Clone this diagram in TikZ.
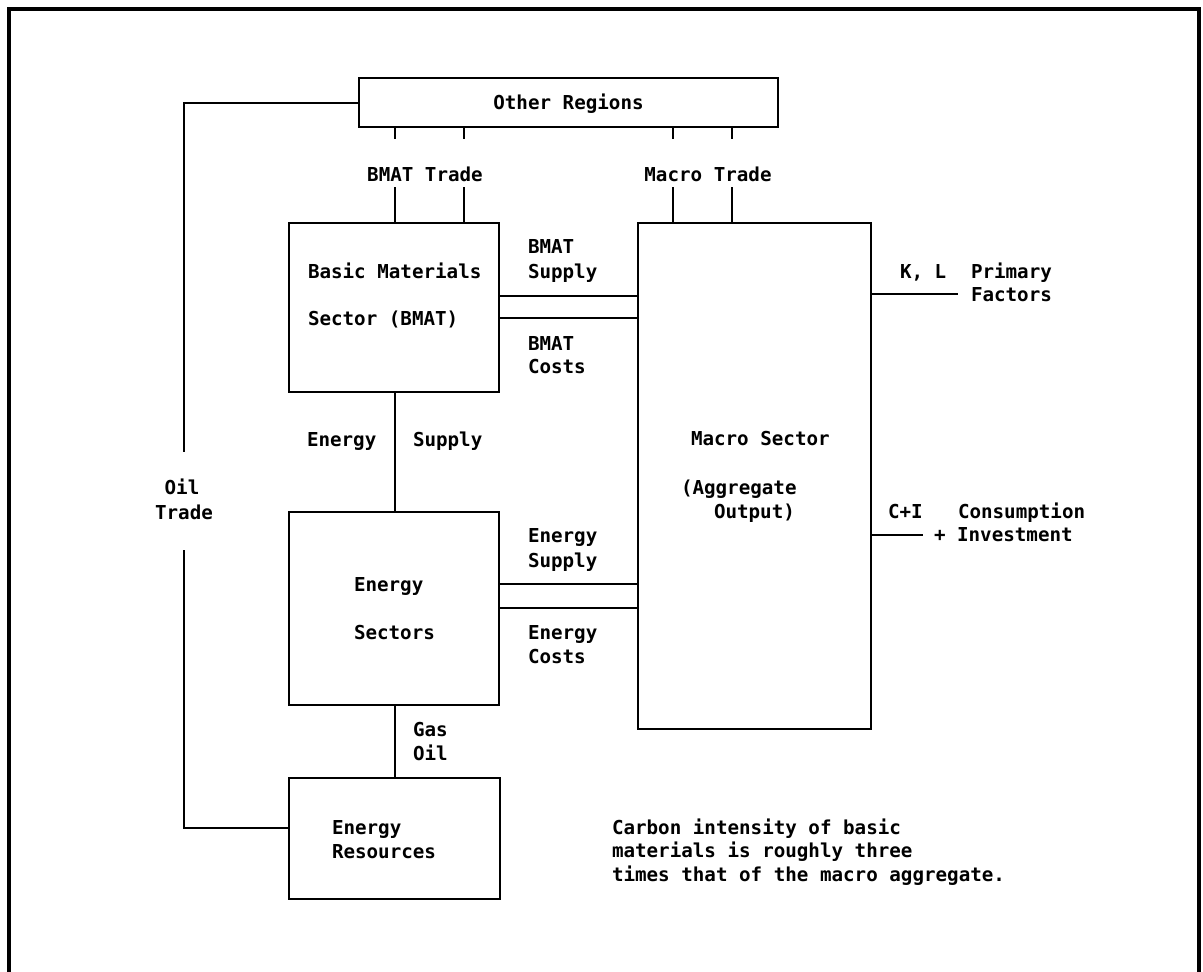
\documentclass[tikz,border=0pt]{standalone}
\usepackage{fontspec}
\setmonofont{DejaVu Sans Mono}
\begin{document}
\begin{tikzpicture}[x=0.75pt,y=-0.75pt,
  every node/.style={font=\ttfamily\bfseries\fontsize{14.4}{16}\selectfont, inner sep=0pt, outer sep=0pt},
  box/.style={draw, rectangle, line width=1.4pt},
  lab/.style={anchor=base west},
  clab/.style={anchor=base},
  wire/.style={line width=1.4pt},
  frameline/.style={line width=2.4pt}]
\useasboundingbox (0,0) rectangle (1203,971);

% outer frame (open at the bottom)
\coordinate (fA) at (9,975);
\coordinate (fB) at (9,9);
\coordinate (fC) at (1199,9);
\coordinate (fD) at (1199,975);
\draw[frameline] (fA) -- (fB) -- (fC) -- (fD);

% boxes
\node[box, minimum width=314.25pt, minimum height=36.75pt] (other) at (568.5,102.5) {};
\node[box, minimum width=157.5pt, minimum height=126.75pt] (bmat) at (394,307.5) {};
\node[box, minimum width=174.75pt, minimum height=379.5pt] (macro) at (754.5,476) {};
\node[box, minimum width=157.5pt, minimum height=144.75pt] (energy) at (394,608.5) {};
\node[box, minimum width=158.25pt, minimum height=90.75pt] (res) at (394.5,838.5) {};

% helper coordinates
\coordinate (s1) at (395,139); \coordinate (s1b) at (395,187);
\coordinate (s2) at (464,139); \coordinate (s2b) at (464,187);
\coordinate (s3) at (673,139); \coordinate (s3b) at (673,187);
\coordinate (s4) at (732,139); \coordinate (s4b) at (732,187);
\coordinate (y296) at (0,296); \coordinate (y318) at (0,318);
\coordinate (y584) at (0,584); \coordinate (y608) at (0,608);
\coordinate (x395) at (395,0);
\coordinate (ot1) at (184,103);
\coordinate (ot2) at (184,452);
\coordinate (ot3) at (184,550);
\coordinate (ot4) at (184,828);
\coordinate (kl) at (958,294);
\coordinate (ci) at (923,535);

% trade stubs
\draw[wire] (other.south -| s1) -- (s1);
\draw[wire] (other.south -| s2) -- (s2);
\draw[wire] (other.south -| s3) -- (s3);
\draw[wire] (other.south -| s4) -- (s4);
\draw[wire] (s1b) -- (bmat.north -| s1b);
\draw[wire] (s2b) -- (bmat.north -| s2b);
\draw[wire] (s3b) -- (macro.north -| s3b);
\draw[wire] (s4b) -- (macro.north -| s4b);

% BMAT supply / costs
\draw[wire] (bmat.east |- y296) -- (macro.west |- y296);
\draw[wire] (bmat.east |- y318) -- (macro.west |- y318);
% energy supply / costs
\draw[wire] (energy.east |- y584) -- (macro.west |- y584);
\draw[wire] (energy.east |- y608) -- (macro.west |- y608);

% vertical links
\draw[wire] (bmat.south -| x395) -- (energy.north -| x395);
\draw[wire] (energy.south -| x395) -- (res.north -| x395);

% oil trade
\draw[wire] (other.west |- ot1) -- (ot1) -- (ot2);
\draw[wire] (ot3) -- (ot4) -- (res.west |- ot4);

% primary factors / C+I
\draw[wire] (macro.east |- kl) -- (kl);
\draw[wire] (macro.east |- ci) -- (ci);

% labels
\node[clab] (tOther) at (568.5,109) {Other Regions};
\node[clab] (tBT) at (425,181) {BMAT Trade};
\node[clab] (tMT) at (708,181) {Macro Trade};
\node[lab] (tBM1) at (308,278) {Basic Materials};
\node[lab] (tBM2) at (308,325) {Sector (BMAT)};
\node[lab] (tBS1) at (528,253) {BMAT};
\node[lab] (tBS2) at (528,278) {Supply};
\node[lab] (tBC1) at (528,350) {BMAT};
\node[lab] (tBC2) at (528,373) {Costs};
\node[lab] (tKL) at (900,278) {K, L};
\node[lab] (tPF1) at (971,278) {Primary};
\node[lab] (tPF2) at (971,301) {Factors};
\node[lab] (tES1) at (307,446) {Energy};
\node[lab] (tES2) at (413,446) {Supply};
\node[clab] (tOT1) at (182,494) {Oil};
\node[clab] (tOT2) at (184,519) {Trade};
\node[lab] (tMS) at (691,445) {Macro Sector};
\node[lab] (tAO1) at (681,494) {(Aggregate};
\node[lab] (tAO2) at (714,518) {Output)};
\node[lab] (tCI) at (888,518) {C+I};
\node[lab] (tCons) at (958,518) {Consumption};
\node[lab] (tInv) at (934,541) {+ Investment};
\node[lab] (tESp1) at (528,542) {Energy};
\node[lab] (tESp2) at (528,567) {Supply};
\node[lab] (tEC1) at (528,639) {Energy};
\node[lab] (tEC2) at (528,663) {Costs};
\node[lab] (tEn1) at (354,591) {Energy};
\node[lab] (tEn2) at (354,639) {Sectors};
\node[lab] (tGas) at (413,736) {Gas};
\node[lab] (tOil) at (413,760) {Oil};
\node[lab] (tER1) at (332,834) {Energy};
\node[lab] (tER2) at (332,858) {Resources};
\node[lab] (tC1) at (612,834) {Carbon intensity of basic};
\node[lab] (tC2) at (612,857) {materials is roughly three};
\node[lab] (tC3) at (612,881) {times that of the macro aggregate.};
\end{tikzpicture}
\end{document}
